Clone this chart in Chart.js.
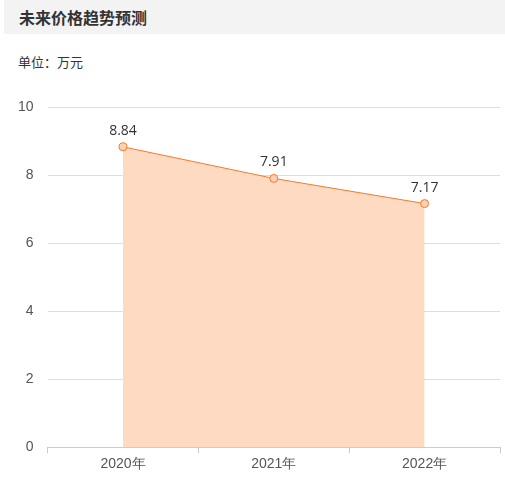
<!DOCTYPE html>
<html><head><meta charset="utf-8">
<script src="https://cdn.jsdelivr.net/npm/chart.js@4/dist/chart.umd.min.js"></script>
<style>
body{margin:0;background:#fff;font-family:"Noto Sans CJK SC","Noto Sans",sans-serif;}
#head{position:absolute;left:4px;top:0;width:501px;height:34px;background:#f3f3f3;}
#head span{position:absolute;left:15px;top:5px;font-size:16px;font-weight:bold;color:#333;}
#unit{position:absolute;left:18px;top:52px;font-size:13px;color:#333;}
#wrap{position:absolute;left:0;top:85px;width:505px;height:409px;}
</style></head><body>
<div id="head"><span>未来价格趋势预测</span></div>
<div id="unit">单位：万元</div>
<div id="wrap"><canvas id="myChart"></canvas></div>
<script>
var years = ['2020年', '2021年', '2022年']
var prices = [8.84, 7.91, 7.17]

var labelPlugin = {
    id: 'valueLabels',
    afterDatasetsDraw(chart) {
        var ctx = chart.ctx
        var meta = chart.getDatasetMeta(0)
        ctx.save()
        ctx.fillStyle = '#333'
        ctx.font = '14px "Open Sans", sans-serif'
        ctx.textAlign = 'center'
        meta.data.forEach(function (pt, i) {
            ctx.fillText(prices[i].toFixed(2), pt.x, pt.y - 12)
        })
        ctx.restore()
    }
}

var ctx = document.getElementById('myChart')
new Chart(ctx, {
    type: 'line',
    data: {
        labels: years,
        datasets: [{
            data: prices,
            borderColor: '#f47a2a',
            borderWidth: 1,
            backgroundColor: 'rgba(255,218,194,1)',
            fill: 'origin',
            tension: 0,
            pointRadius: 4,
            pointBackgroundColor: '#fcd0b0',
            pointBorderColor: '#f47a2a',
            pointBorderWidth: 1
        }]
    },
    options: {
        responsive: true,
        maintainAspectRatio: false,
        animation: false,
        layout: { padding: { top: 2, right: 2, bottom: 18, left: 4 } },
        plugins: { legend: { display: false }, tooltip: { enabled: false } },
        scales: {
            x: {
                offset: true,
                grid: { display: true, drawOnChartArea: false, color: '#ccc', offset: true, tickLength: 6 },
                border: { color: '#ccc' },
                ticks: { color: '#555', font: { size: 14 } }
            },
            y: {
                min: 0, max: 10,
                ticks: { stepSize: 2, color: '#555', font: { size: 14 }, padding: 14 },
                grid: { color: '#ddd', drawTicks: false },
                border: { display: false }
            }
        }
    },
    plugins: [labelPlugin]
})
</script>
</body></html>
